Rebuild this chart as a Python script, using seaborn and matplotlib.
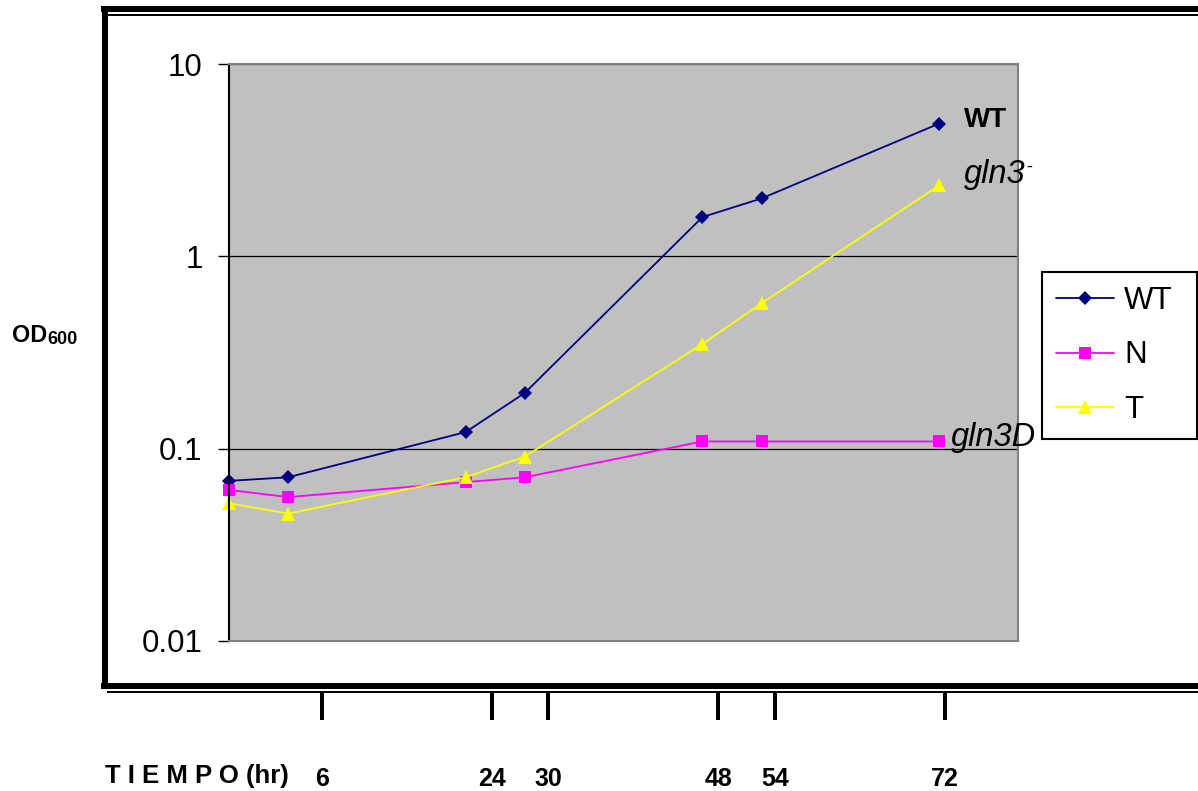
import matplotlib
matplotlib.use('Agg')
import matplotlib.pyplot as plt
from matplotlib.lines import Line2D
from matplotlib.ticker import NullLocator
import numpy as np
import pandas as pd
import seaborn as sns

# ---------------- data ----------------
time_hr = [0, 6, 24, 30, 48, 54, 72]
od_wt = [0.068, 0.071, 0.122, 0.195, 1.6, 2.0, 4.9]
od_n = [0.061, 0.056, 0.067, 0.071, 0.109, 0.109, 0.109]
od_t = [0.052, 0.046, 0.071, 0.091, 0.35, 0.57, 2.34]
series_names = ['WT', 'N', 'T']
time_ticks = [6, 24, 30, 48, 54, 72]
y_ticks = [0.01, 0.1, 1, 10]
y_tick_labels = ['0.01', '0.1', '1', '10']

sns.set_theme(style='white')
plt.rcParams['font.family'] = ['Liberation Sans', 'DejaVu Sans']
plt.rcParams['text.color'] = 'black'
plt.rcParams['axes.labelcolor'] = 'black'
plt.rcParams['xtick.color'] = 'black'
plt.rcParams['ytick.color'] = 'black'

W, H = 1198, 791
fig = plt.figure(figsize=(W / 100, H / 100), dpi=100)


def fx(px):
    return px / W


def fy(py):
    return 1 - py / H


ax = fig.add_axes([fx(229), fy(641), fx(1018) - fx(229), fy(64) - fy(641)])
ax.set_facecolor('#C0C0C0')

df = pd.DataFrame({
    'time': time_hr * 3,
    'od': od_wt + od_n + od_t,
    'strain': [s for s in series_names for _ in time_hr],
})
colors = {'WT': '#000080', 'N': '#FF00FF', 'T': '#FFFF00'}
markers = {'WT': 'D', 'N': 's', 'T': '^'}
msizes = {'WT': 7.5, 'N': 8.5, 'T': 9.5}
for name in series_names:
    sub = df[df['strain'] == name]
    sns.lineplot(data=sub, x='time', y='od', ax=ax, color=colors[name],
                 marker=markers[name], markersize=msizes[name],
                 markeredgewidth=0, linewidth=1.3, label=name,
                 errorbar=None, legend=False, clip_on=False)

ax.set_yscale('log')
ax.set_ylim(0.01, 10)
ax.set_xlim(0, 80)
ax.set_yticks(y_ticks)
ax.set_yticklabels(y_tick_labels)
ax.yaxis.set_minor_locator(NullLocator())
ax.tick_params(axis='y', which='major', direction='out', length=8, width=1,
               color='black', labelsize=22.5, pad=11, left=True, labelcolor='black')
ax.tick_params(axis='x', bottom=False, labelbottom=False)
ax.set_xlabel('')
ax.set_ylabel('')
ax.yaxis.grid(True, which='major', color='black', linewidth=0.9)
ax.set_axisbelow(True)
for side in ['top', 'right', 'bottom']:
    ax.spines[side].set_color('#808080')
    ax.spines[side].set_linewidth(1.5)
ax.spines['left'].set_color('black')
ax.spines['left'].set_linewidth(1.5)

# end-of-line annotations
ax.annotate('WT', xy=(time_hr[-1], od_wt[-1]), xytext=(25, -3),
            textcoords='offset pixels', ha='left', va='baseline', color='black',
            fontsize=20, fontweight='bold', annotation_clip=False)
ax.annotate('gln3', xy=(time_hr[-1], od_t[-1]), xytext=(25, 2),
            textcoords='offset pixels', ha='left', va='baseline', color='black',
            fontsize=23.5, fontstyle='italic', annotation_clip=False)
ax.annotate('-', xy=(time_hr[-1], od_t[-1]), xytext=(87, 14),
            textcoords='offset pixels', ha='left', va='baseline', color='black',
            fontsize=13, annotation_clip=False)
ax.annotate('gln3D', xy=(time_hr[-1], od_n[-1]), xytext=(12, -5),
            textcoords='offset pixels', ha='left', va='baseline', color='black',
            fontsize=23.5, fontstyle='italic', annotation_clip=False)

# legend
leg = ax.legend(loc='upper left',
                bbox_to_anchor=(fx(1042), fy(432), fx(1197) - fx(1042), fy(272) - fy(432)),
                bbox_transform=fig.transFigure, mode='expand', borderaxespad=0,
                frameon=True, fancybox=False, edgecolor='black', facecolor='white',
                framealpha=1, fontsize=22.5, handlelength=1.85, handletextpad=0.33,
                labelspacing=0.78, borderpad=0.45)
leg.get_frame().set_linewidth(1.5)
for t in leg.get_texts():
    t.set_color('black')

# lower hand-drawn time axis
ax2 = fig.add_axes([fx(229), fy(720), fx(1018) - fx(229), fy(693) - fy(720)])
ax2.set_facecolor('none')
for s in ax2.spines.values():
    s.set_visible(False)
ax2.set_xlim(-3.81, 79.72)
ax2.set_xticks(time_ticks)
ax2.set_xticklabels([str(t) for t in time_ticks])
ax2.set_yticks([])
ax2.tick_params(axis='x', direction='in', length=19.4, width=2.9, color='black',
                pad=34, labelsize=18, bottom=True, labelcolor='black')
for lbl in ax2.get_xticklabels():
    lbl.set_fontweight('bold')

fig.text(fx(105), fy(776), 'T I E M P O (hr)', fontsize=18.5, fontweight='bold',
         ha='left', va='center', color='black')
fig.text(fx(12), fy(335), 'OD', fontsize=16.8, fontweight='bold', ha='left',
         va='center', color='black')
fig.text(fx(47), fy(340), '600', fontsize=13, fontweight='bold', ha='left',
         va='center', color='black')

# chart-area frame
lw_thick = 6 * 0.72
lw_thin = 2 * 0.72
fig.add_artist(Line2D([fx(101), 1.0], [fy(9), fy(9)], transform=fig.transFigure,
                      color='black', lw=lw_thick, solid_capstyle='butt'))
fig.add_artist(Line2D([fx(108), 1.0], [fy(14.5), fy(14.5)], transform=fig.transFigure,
                      color='black', lw=lw_thin, solid_capstyle='butt'))
fig.add_artist(Line2D([fx(104.5), fx(104.5)], [fy(6), fy(689)], transform=fig.transFigure,
                      color='black', lw=lw_thick, solid_capstyle='butt'))
fig.add_artist(Line2D([fx(101), 1.0], [fy(686), fy(686)], transform=fig.transFigure,
                      color='black', lw=lw_thick, solid_capstyle='butt'))
fig.add_artist(Line2D([fx(107), 1.0], [fy(692), fy(692)], transform=fig.transFigure,
                      color='black', lw=lw_thin, solid_capstyle='butt'))

fig.savefig('out.png', dpi=100, facecolor='white')
